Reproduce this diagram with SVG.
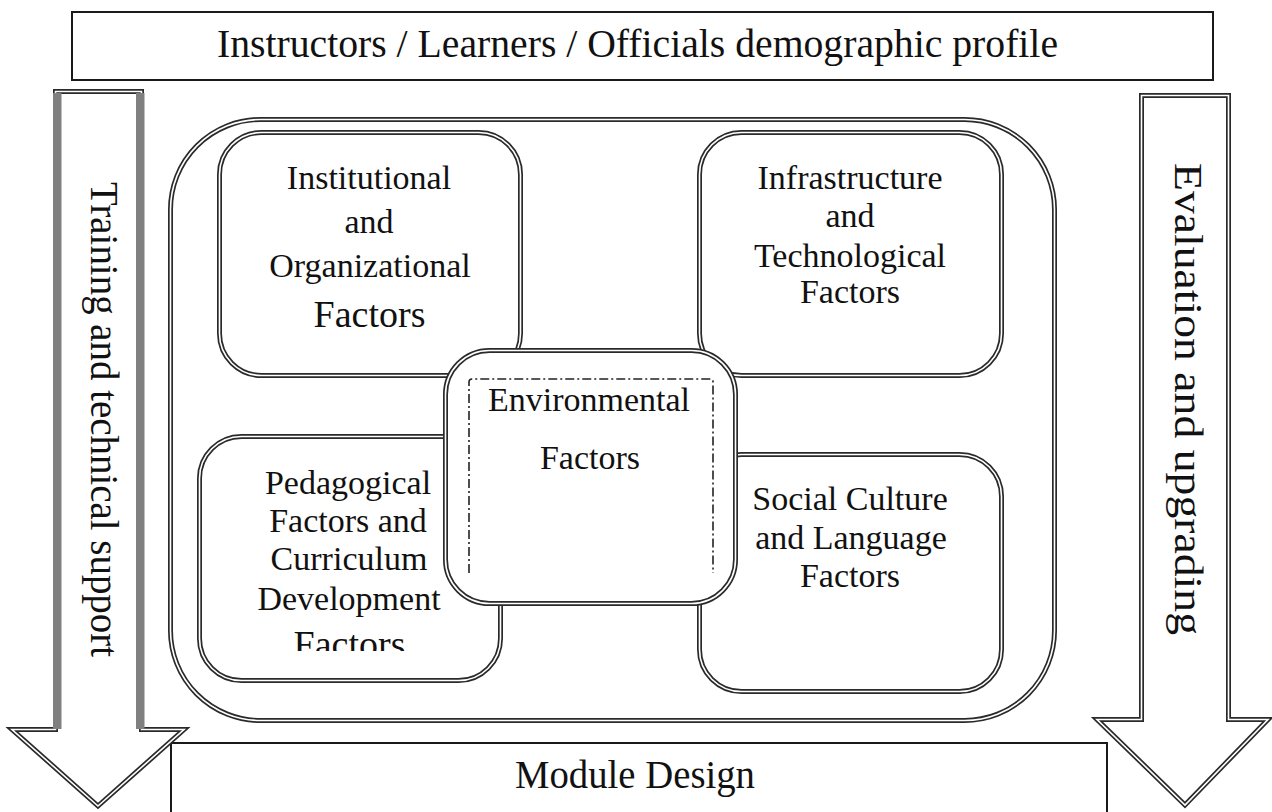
<svg xmlns="http://www.w3.org/2000/svg" xmlns:xlink="http://www.w3.org/1999/xlink" width="1272" height="812" viewBox="0 0 1272 812">
  <style>
    .lbl { font-family: "Liberation Serif", "Times New Roman", serif; font-size: 34px; fill: #111; text-anchor: middle; }
    .big { font-size: 39px; }
    .frame { fill: #fff; stroke: #1a1a1a; stroke-width: 2; }
    .dbl-o { fill: #fff; stroke: #2a2a2a; stroke-width: 5; stroke-linejoin: miter; }
    .dbl-i { fill: none; stroke: #fff; stroke-width: 1.6; stroke-linejoin: miter; }
    .shade { fill: #808080; }
    .dashdot { fill: none; stroke: #222; stroke-width: 1.6; stroke-dasharray: 9 3 2 3; }
  </style>
  <defs>
    <!-- block arrow outlines -->
    <path id="arrowL" d="M55.5,91.5 H141.5 V729.5 H184 L98,806 L12,729.5 H55.5 Z"/>
    <path id="arrowR" d="M1141.5,95.5 H1228.5 V719.5 H1268 L1185,805 L1097,719.5 H1141.5 Z"/>
    <!-- rounded panels -->
    <rect id="panelOuter" x="170.5" y="119.5" width="884" height="601" rx="90" ry="90"/>
    <rect id="boxInst" x="219.5" y="132.5" width="301" height="243" rx="42" ry="42"/>
    <rect id="boxInfra" x="699.5" y="132.5" width="302" height="243" rx="42" ry="42"/>
    <rect id="boxPed" x="199.5" y="436.5" width="301" height="244" rx="42" ry="42"/>
    <rect id="boxSoc" x="699.5" y="454.5" width="302" height="237" rx="42" ry="42"/>
    <rect id="boxEnv" x="445.5" y="350.5" width="290" height="253" rx="44" ry="44"/>
    <clipPath id="pedClip"><rect x="200" y="438" width="300" height="213"/></clipPath>
  </defs>

  <!-- header bar -->
  <g id="profile">
    <rect class="frame" x="72" y="12" width="1141" height="68"/>
    <text class="lbl big" x="637.5" y="57" textLength="841" lengthAdjust="spacingAndGlyphs">Instructors / Learners / Officials demographic profile</text>
  </g>

  <!-- footer bar -->
  <g id="module-design">
    <rect class="frame" x="171" y="743" width="936" height="80"/>
    <text class="lbl big" x="635" y="788" textLength="240" lengthAdjust="spacingAndGlyphs">Module Design</text>
  </g>

  <!-- side block arrows -->
  <g id="training-arrow">
    <use xlink:href="#arrowL" class="dbl-o"/>
    <use xlink:href="#arrowL" class="dbl-i"/>
    <rect class="shade" x="53" y="93" width="8.5" height="636"/>
    <rect class="shade" x="136" y="93" width="8.5" height="636"/>
    <text class="lbl big" transform="translate(91,419.5) rotate(90)" textLength="475" lengthAdjust="spacingAndGlyphs">Training and technical support</text>
  </g>

  <g id="evaluation-arrow">
    <use xlink:href="#arrowR" class="dbl-o"/>
    <use xlink:href="#arrowR" class="dbl-i"/>
    <text class="lbl big" transform="translate(1175,399) rotate(90)" textLength="472" lengthAdjust="spacingAndGlyphs">Evaluation and upgrading</text>
  </g>

  <!-- enclosing panel -->
  <g id="factors-panel">
    <use xlink:href="#panelOuter" class="dbl-o"/>
    <use xlink:href="#panelOuter" class="dbl-i"/>
  </g>

  <g id="institutional">
    <use xlink:href="#boxInst" class="dbl-o"/>
    <use xlink:href="#boxInst" class="dbl-i"/>
    <text class="lbl" x="369" y="189">Institutional</text>
    <text class="lbl" x="369" y="233">and</text>
    <text class="lbl" x="370" y="277">Organizational</text>
    <text class="lbl" x="369.5" y="327" style="font-size:38px">Factors</text>
  </g>

  <g id="infrastructure">
    <use xlink:href="#boxInfra" class="dbl-o"/>
    <use xlink:href="#boxInfra" class="dbl-i"/>
    <text class="lbl" x="850" y="189">Infrastructure</text>
    <text class="lbl" x="850" y="227">and</text>
    <text class="lbl" x="850" y="267">Technological</text>
    <text class="lbl" x="850" y="303">Factors</text>
  </g>

  <g id="pedagogical">
    <use xlink:href="#boxPed" class="dbl-o"/>
    <use xlink:href="#boxPed" class="dbl-i"/>
    <g clip-path="url(#pedClip)">
      <text class="lbl" x="348" y="494">Pedagogical</text>
      <text class="lbl" x="348" y="532">Factors and</text>
      <text class="lbl" x="349" y="570">Curriculum</text>
      <text class="lbl" x="349" y="610">Development</text>
      <text class="lbl" x="349.5" y="657" style="font-size:38px">Factors</text>
    </g>
  </g>

  <g id="social-culture">
    <use xlink:href="#boxSoc" class="dbl-o"/>
    <use xlink:href="#boxSoc" class="dbl-i"/>
    <text class="lbl" x="850" y="510">Social Culture</text>
    <text class="lbl" x="851" y="549">and Language</text>
    <text class="lbl" x="850" y="587">Factors</text>
  </g>

  <!-- central panel drawn last so it sits over its neighbours -->
  <g id="environmental">
    <use xlink:href="#boxEnv" class="dbl-o"/>
    <use xlink:href="#boxEnv" class="dbl-i"/>
    <path class="dashdot" d="M469,573 V382 Q469,379 472,379 H710 Q713,379 713,382 V573"/>
    <text class="lbl" x="589" y="411">Environmental</text>
    <text class="lbl" x="590" y="469">Factors</text>
  </g>

  <g id="connectors"/>
</svg>
